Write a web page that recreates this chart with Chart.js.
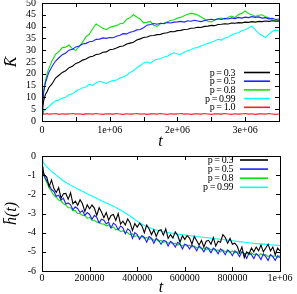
<!DOCTYPE html>
<html>
<head>
<meta charset="utf-8">
<script src="https://cdn.jsdelivr.net/npm/chart.js@4.4.1/dist/chart.umd.min.js"></script>
<style>
html, body { margin: 0; padding: 0; background: #fff; }
#wrap { position: relative; width: 297px; height: 294px; }
.box { position: absolute; left: 0; width: 297px; }
#top { top: 0; height: 148px; }
#bot { top: 148px; height: 146px; }
</style>
</head>
<body>
<div id="wrap">
  <div class="box" id="top"><canvas id="chartTop"></canvas></div>
  <div class="box" id="bot"><canvas id="chartBot"></canvas></div>
</div>
<script>
// ---- top panel: mean K vs t ----
const tTop = [0, 1e4, 2.5e4, 5e4, 7.5e4, 1e5,
  1.5e5, 2e5, 2.5e5, 3e5, 3.5e5, 4e5, 4.5e5, 5e5, 5.5e5, 6e5, 6.5e5, 7e5, 7.5e5, 8e5, 8.5e5, 9e5, 9.5e5, 1e6,
  1.05e6, 1.1e6, 1.15e6, 1.2e6, 1.25e6, 1.3e6, 1.35e6, 1.4e6, 1.45e6, 1.5e6, 1.55e6, 1.6e6, 1.65e6, 1.7e6, 1.75e6, 1.8e6, 1.85e6, 1.9e6, 1.95e6, 2e6,
  2.05e6, 2.1e6, 2.15e6, 2.2e6, 2.25e6, 2.3e6, 2.35e6, 2.4e6, 2.45e6, 2.5e6, 2.55e6, 2.6e6, 2.65e6, 2.7e6, 2.75e6, 2.8e6, 2.85e6, 2.9e6, 2.95e6, 3e6,
  3.05e6, 3.1e6, 3.15e6, 3.2e6, 3.25e6, 3.3e6, 3.35e6, 3.4e6, 3.45e6, 3.5e6];
const kP03 = [3.0, 6.0, 8.6, 11.2, 12.4, 14.1,
  15.8, 18.2, 19.4, 20.6, 21.3, 22.6, 23.2, 24.4, 24.9, 25.8, 26.3, 27.1, 27.4, 28.2, 28.4, 29.1, 29.3, 30.2,
  30.4, 30.9, 31.6, 31.8, 32.6, 33.0, 33.4, 34.3, 34.8, 35.4, 35.6, 36.1, 36.2, 36.6, 36.7, 37.2, 37.4, 37.9, 37.8, 38.3,
  38.4, 38.8, 38.9, 39.3, 39.4, 39.7, 39.6, 40.1, 40.2, 40.5, 40.4, 40.9, 41.0, 41.2, 41.1, 41.5, 41.4, 41.7, 41.6, 41.9,
  41.8, 42.1, 41.9, 42.2, 42.1, 42.4, 42.2, 42.5, 42.3, 42.5];
const kP05 = [3.0, 8.0, 12.2, 16.1, 18.4, 20.6,
  23.2, 25.4, 26.8, 28.1, 28.8, 30.0, 30.4, 31.4, 31.8, 32.6, 32.9, 33.6, 33.8, 34.6, 34.7, 35.2, 35.0, 35.4,
  35.3, 35.9, 36.3, 37.0, 36.9, 37.6, 37.9, 38.6, 38.8, 39.5, 40.6, 40.9, 41.3, 41.0, 41.4, 41.2, 41.7, 41.5, 41.9, 42.0,
  42.2, 41.9, 42.5, 42.3, 42.7, 42.4, 42.1, 42.6, 42.9, 43.1, 42.8, 43.3, 43.0, 43.5, 43.2, 43.7, 43.4, 43.9, 43.6, 44.0,
  43.8, 44.2, 43.9, 44.1, 43.6, 43.8, 43.3, 43.5, 43.0, 43.2];
const kP08 = [3.0, 9.0, 13.2, 17.0, 20.1, 22.2,
  25.6, 28.2, 29.4, 31.1, 31.3, 32.2, 30.6, 29.9, 31.6, 33.4, 35.7, 36.8, 39.2, 41.1, 40.2, 39.3, 38.7, 39.6,
  40.1, 40.4, 41.2, 41.4, 43.1, 43.8, 45.0, 44.1, 43.2, 41.6, 41.8, 42.2, 40.6, 40.1, 41.2, 41.4, 42.1, 42.6, 42.9, 43.6,
  43.9, 44.6, 45.2, 45.6, 45.4, 44.9, 44.1, 43.2, 42.3, 42.0, 42.8, 43.3, 43.6, 43.1, 44.0, 44.5, 43.8, 45.1, 45.6, 46.6,
  45.5, 45.0, 44.3, 44.8, 45.0, 44.2, 43.8, 42.9, 42.5, 42.1];
const kP099 = [3.0, 3.4, 4.1, 4.8, 5.6, 6.1,
  7.4, 8.6, 8.9, 9.7, 10.1, 11.2, 11.4, 12.6, 13.3, 14.1, 14.4, 15.6, 15.1, 16.2, 16.8, 16.4, 15.9, 16.6,
  17.1, 17.4, 18.2, 18.6, 19.4, 20.6, 21.3, 22.6, 23.4, 24.6, 25.1, 24.4, 25.6, 26.2, 26.4, 27.1, 27.4, 28.3, 28.9, 28.4,
  28.2, 29.1, 29.8, 30.2, 30.9, 31.1, 31.9, 32.3, 32.9, 33.4, 33.9, 34.6, 34.3, 35.2, 35.6, 36.4, 37.1, 37.4, 38.2, 38.7,
  39.4, 40.2, 38.6, 37.1, 36.2, 35.4, 36.8, 37.9, 38.6, 38.1];
const kP10 = [3.0, 2.8, 3.1, 2.9, 3.2, 2.9, 3.0, 3.2, 2.8, 3.1,
  2.9, 3.0, 3.2, 2.9, 3.1, 2.8, 3.0, 3.1, 2.9, 3.2,
  3.0, 2.8, 3.1, 3.0, 2.9, 3.2, 3.0, 2.8, 3.1, 2.9,
  3.0, 3.2, 2.9, 3.1, 2.8, 3.0, 3.1, 2.9, 3.2, 3.0,
  2.8, 3.1, 2.9, 3.0, 3.2, 2.9, 3.1, 2.8, 3.0, 3.1,
  2.9, 3.2, 3.0, 2.8, 3.1, 3.0, 2.9, 3.2, 3.0, 2.8,
  3.1, 2.9, 3.0, 3.2, 2.9, 3.1, 2.8, 3.0, 3.1, 2.9,
  3.2, 3.0, 2.8, 3.0];
const topLabels = ['p = 0.3', 'p = 0.5', 'p = 0.8', 'p = 0.99', 'p = 1.0'];
const topColors = ['#000000', '#2020ff', '#10e010', '#00ffff', '#ff2020'];

// ---- bottom panel: mean h(t) vs t ----
const tBot = [0, 2000, 5000, 10000,
  20000, 30000, 40000, 50000, 60000, 70000, 80000, 90000, 100000, 110000,
  120000, 130000, 140000, 150000, 160000, 170000, 180000, 190000, 200000, 210000,
  220000, 230000, 240000, 250000, 260000, 270000, 280000, 290000, 300000, 310000,
  320000, 330000, 340000, 350000, 360000, 370000, 380000, 390000, 400000, 410000,
  420000, 430000, 440000, 450000, 460000, 470000, 480000, 490000, 500000, 510000,
  520000, 530000, 540000, 550000, 560000, 570000, 580000, 590000, 600000, 610000,
  620000, 630000, 640000, 650000, 660000, 670000, 680000, 690000, 700000, 710000,
  720000, 730000, 740000, 750000, 760000, 770000, 780000, 790000, 800000, 810000,
  820000, 830000, 840000, 850000, 860000, 870000, 880000, 890000, 900000, 910000,
  920000, 930000, 940000, 950000, 960000, 970000, 980000, 990000, 1000000];
const hP03 = [0, -0.5, -0.8, -1.0,
  -1.1, -1.6, -1.25, -1.7, -1.9, -1.65, -2.2, -1.97, -1.95, -2.26,
  -1.92, -2.5, -2.36, -2.57, -2.28, -2.49, -2.9, -2.55, -2.75, -2.56,
  -2.72, -3.1, -2.7, -2.92, -3.22, -2.95, -3.35, -3.1, -3.05, -3.36,
  -3.0, -3.55, -3.4, -3.6, -3.28, -3.48, -3.88, -3.52, -3.71, -3.5,
  -3.64, -4.0, -3.6, -3.81, -4.1, -3.85, -4.2, -3.9, -3.85, -4.13,
  -3.8, -4.3, -4.1, -4.28, -3.96, -4.14, -4.5, -4.16, -4.35, -4.15,
  -4.28, -4.6, -4.2, -4.42, -4.65, -4.4, -4.75, -4.45, -4.4, -4.6,
  -4.25, -4.7, -4.45, -4.5, -4.1, -4.25, -4.55, -4.3, -4.6, -4.55,
  -4.7, -5.05, -4.75, -5.3, -5.0, -5.1, -4.8, -5.0, -4.75, -4.95,
  -4.65, -5.0, -4.8, -4.6, -4.95, -4.75, -5.15, -4.8, -4.95];
const hP05 = [0, -0.5, -0.85, -1.05,
  -1.3, -1.5, -1.75, -1.85, -2.1, -2.05, -2.3, -2.2, -2.5, -2.45,
  -2.55, -2.8, -2.65, -2.75, -2.95, -2.85, -3.1, -2.95, -3.05, -3.3,
  -3.1, -3.2, -3.5, -3.3, -3.35, -3.55, -3.45, -3.75, -3.5, -3.6,
  -3.85, -3.65, -3.75, -4.05, -3.8, -3.9, -4.3, -4.0, -4.1, -4.35,
  -4.15, -4.25, -4.5, -4.2, -4.3, -4.55, -4.3, -4.4, -4.6, -4.4,
  -4.45, -4.7, -4.45, -4.55, -4.75, -4.5, -4.6, -4.85, -4.6, -4.65,
  -4.85, -4.65, -4.75, -4.95, -4.7, -4.8, -5.0, -4.75, -4.85, -5.05,
  -4.8, -4.9, -5.1, -4.85, -4.95, -5.15, -4.9, -5.0, -5.2, -4.95,
  -5.05, -5.25, -5.0, -5.1, -5.35, -5.05, -5.15, -5.35, -5.1, -5.2,
  -5.4, -5.1, -5.25, -5.45, -5.15, -5.25, -5.45, -5.2, -5.3];
const hP08 = [0, -0.5, -0.85, -1.1,
  -1.4, -1.65, -1.85, -2.05, -2.15, -2.3, -2.35, -2.5, -2.55, -2.7,
  -2.7, -2.85, -2.85, -3.0, -3.0, -3.1, -3.1, -3.25, -3.2, -3.35,
  -3.35, -3.45, -3.45, -3.55, -3.55, -3.65, -3.6, -3.75, -3.7, -3.85,
  -3.8, -3.95, -3.9, -4.0, -4.0, -4.1, -4.05, -4.2, -4.15, -4.25,
  -4.2, -4.3, -4.25, -4.35, -4.3, -4.4, -4.35, -4.45, -4.4, -4.5,
  -4.45, -4.55, -4.5, -4.6, -4.55, -4.65, -4.6, -4.7, -4.6, -4.7,
  -4.65, -4.75, -4.7, -4.8, -4.75, -4.85, -4.8, -4.9, -4.8, -4.9,
  -4.85, -4.95, -4.9, -5.0, -4.9, -5.0, -4.95, -5.05, -4.95, -5.05,
  -5.0, -5.1, -5.0, -5.1, -5.05, -5.15, -5.05, -5.15, -5.1, -5.2,
  -5.1, -5.2, -5.15, -5.25, -5.15, -5.25, -5.2, -5.3, -5.2];
const hP099 = [0, -0.15, -0.3, -0.42,
  -0.55, -0.68, -0.8, -0.9, -1.0, -1.1, -1.2, -1.29, -1.38, -1.45,
  -1.52, -1.59, -1.65, -1.72, -1.78, -1.84, -1.9, -1.97, -2.03, -2.09,
  -2.15, -2.21, -2.27, -2.33, -2.39, -2.45, -2.5, -2.56, -2.62, -2.68,
  -2.75, -2.82, -2.9, -2.97, -3.05, -3.13, -3.22, -3.31, -3.4, -3.48,
  -3.55, -3.62, -3.68, -3.73, -3.78, -3.82, -3.86, -3.89, -3.92, -3.95,
  -3.97, -3.99, -4.01, -4.03, -4.05, -4.07, -4.09, -4.11, -4.12, -4.14,
  -4.15, -4.17, -4.18, -4.2, -4.21, -4.23, -4.24, -4.26, -4.27, -4.29,
  -4.3, -4.32, -4.33, -4.35, -4.36, -4.38, -4.39, -4.41, -4.42, -4.44,
  -4.45, -4.47, -4.48, -4.5, -4.51, -4.53, -4.54, -4.56, -4.57, -4.58,
  -4.59, -4.6, -4.61, -4.62, -4.63, -4.64, -4.65, -4.66, -4.67];
const botLabels = ['p = 0.3', 'p = 0.5', 'p = 0.8', 'p = 0.99'];
const botColors = ['#000000', '#2020ff', '#10e010', '#00ffff'];

const SERIF = '"Liberation Serif", "DejaVu Serif", serif';

// gnuplot style box with inward ticks on all four sides
const frame = {
    id: 'frame',
    afterDatasetsDraw(chart) {
        const { ctx, chartArea: a, scales: { x, y } } = chart;
        ctx.save();
        ctx.strokeStyle = '#000';
        ctx.lineWidth = 1;
        ctx.beginPath();
        x.ticks.forEach(t => {
            const px = Math.round(x.getPixelForValue(t.value)) + 0.5;
            ctx.moveTo(px, a.bottom); ctx.lineTo(px, a.bottom - 4);
            ctx.moveTo(px, a.top); ctx.lineTo(px, a.top + 4);
        });
        y.ticks.forEach(t => {
            const py = Math.round(y.getPixelForValue(t.value)) + 0.5;
            ctx.moveTo(a.left, py); ctx.lineTo(a.left + 4, py);
            ctx.moveTo(a.right, py); ctx.lineTo(a.right - 4, py);
        });
        ctx.stroke();
        ctx.strokeRect(Math.round(a.left) + 0.5, Math.round(a.top) + 0.5,
            Math.round(a.right - a.left), Math.round(a.bottom - a.top));
        ctx.restore();
    }
};

// key drawn inside the plot: text right-aligned, sample line to its right
const key = {
    id: 'key',
    afterDraw(chart, args, opts) {
        const { ctx } = chart;
        ctx.save();
        ctx.font = '10px ' + SERIF;
        ctx.letterSpacing = '-0.4px';
        ctx.textAlign = 'right';
        ctx.textBaseline = 'middle';
        chart.data.datasets.forEach((ds, i) => {
            const yy = opts.y0 + i * opts.dy;
            ctx.fillStyle = '#000';
            ctx.fillText(ds.label, opts.textRight, yy + 0.5);
            ctx.strokeStyle = ds.borderColor;
            ctx.lineWidth = 1.6;
            ctx.beginPath();
            ctx.moveTo(opts.x1, yy); ctx.lineTo(opts.x2, yy);
            ctx.stroke();
        });
        ctx.restore();
    }
};

function makeSets(ts, series, labels, colors) {
    return series.map((vals, i) => ({
        label: labels[i],
        data: ts.map((t, j) => ({ x: t, y: vals[j] })),
        borderColor: colors[i],
        borderWidth: 1.1,
        pointRadius: 0,
        fill: false,
        tension: 0
    }));
}

function makeChart(id, cfg) {
    return new Chart(document.getElementById(id), {
        type: 'line',
        data: { datasets: cfg.datasets },
        options: {
            responsive: true,
            maintainAspectRatio: false,
            animation: false,
            devicePixelRatio: 1,
            layout: { padding: cfg.pad },
            plugins: { legend: { display: false }, tooltip: { enabled: false }, key: cfg.key },
            scales: {
                x: {
                    type: 'linear', min: cfg.xMin, max: cfg.xMax,
                    grid: { display: false, drawTicks: false }, border: { display: false },
                    ticks: {
                        stepSize: cfg.xStep, autoSkip: false, maxRotation: 0, padding: cfg.xPad,
                        color: '#000', font: { family: SERIF, size: 10 }, callback: cfg.xFmt
                    },
                    title: {
                        display: true, text: 't', color: '#000',
                        font: { family: SERIF, size: 16, style: 'italic', lineHeight: 1 },
                        padding: { top: 0, bottom: cfg.tPad }
                    },
                    afterFit(s) { s.height = cfg.xH; s.paddingLeft = 0; s.paddingRight = 0; }
                },
                y: {
                    type: 'linear', min: cfg.yMin, max: cfg.yMax,
                    grid: { display: false, drawTicks: false }, border: { display: false },
                    ticks: {
                        stepSize: cfg.yStep, autoSkip: false, padding: 6,
                        color: '#000', font: { family: SERIF, size: 10 }
                    },
                    title: {
                        display: true, text: cfg.yTitle, color: '#000',
                        font: { family: SERIF, size: 16, style: 'italic', lineHeight: 1 },
                        padding: { top: 4, bottom: 0 }
                    },
                    afterFit(s) { s.width = 42; s.paddingTop = 0; s.paddingBottom = 0; }
                }
            }
        },
        plugins: [frame, key]
    });
}

makeChart('chartTop', {
    datasets: makeSets(tTop, [kP03, kP05, kP08, kP099, kP10], topLabels, topColors),
    pad: { left: 0, right: 18, top: 3, bottom: 0 },
    xMin: 0, xMax: 3.5e6, xStep: 5e5, xPad: 3, xH: 27, tPad: -2,
    xFmt: v => v === 0 ? '0' : (v % 1e6 === 0 ? (v / 1e6) + 'e+06' : ''),
    yMin: 0, yMax: 50, yStep: 5, yTitle: 'K\u0304',
    key: { y0: 72.5, dy: 8.7, textRight: 235, x1: 244, x2: 270 }
});

makeChart('chartBot', {
    datasets: makeSets(tBot, [hP03, hP05, hP08, hP099], botLabels, botColors),
    pad: { left: 0, right: 17, top: 8, bottom: 0 },
    xMin: 0, xMax: 1e6, xStep: 2e5, xPad: 1, xH: 23, tPad: -2,
    xFmt: v => v >= 1e6 ? '1e+06' : String(v),
    yMin: -6, yMax: 0, yStep: 1, yTitle: 'h\u0304(t)',
    key: { y0: 12, dy: 9.1, textRight: 233, x1: 240, x2: 268 }
});
</script>
</body>
</html>
